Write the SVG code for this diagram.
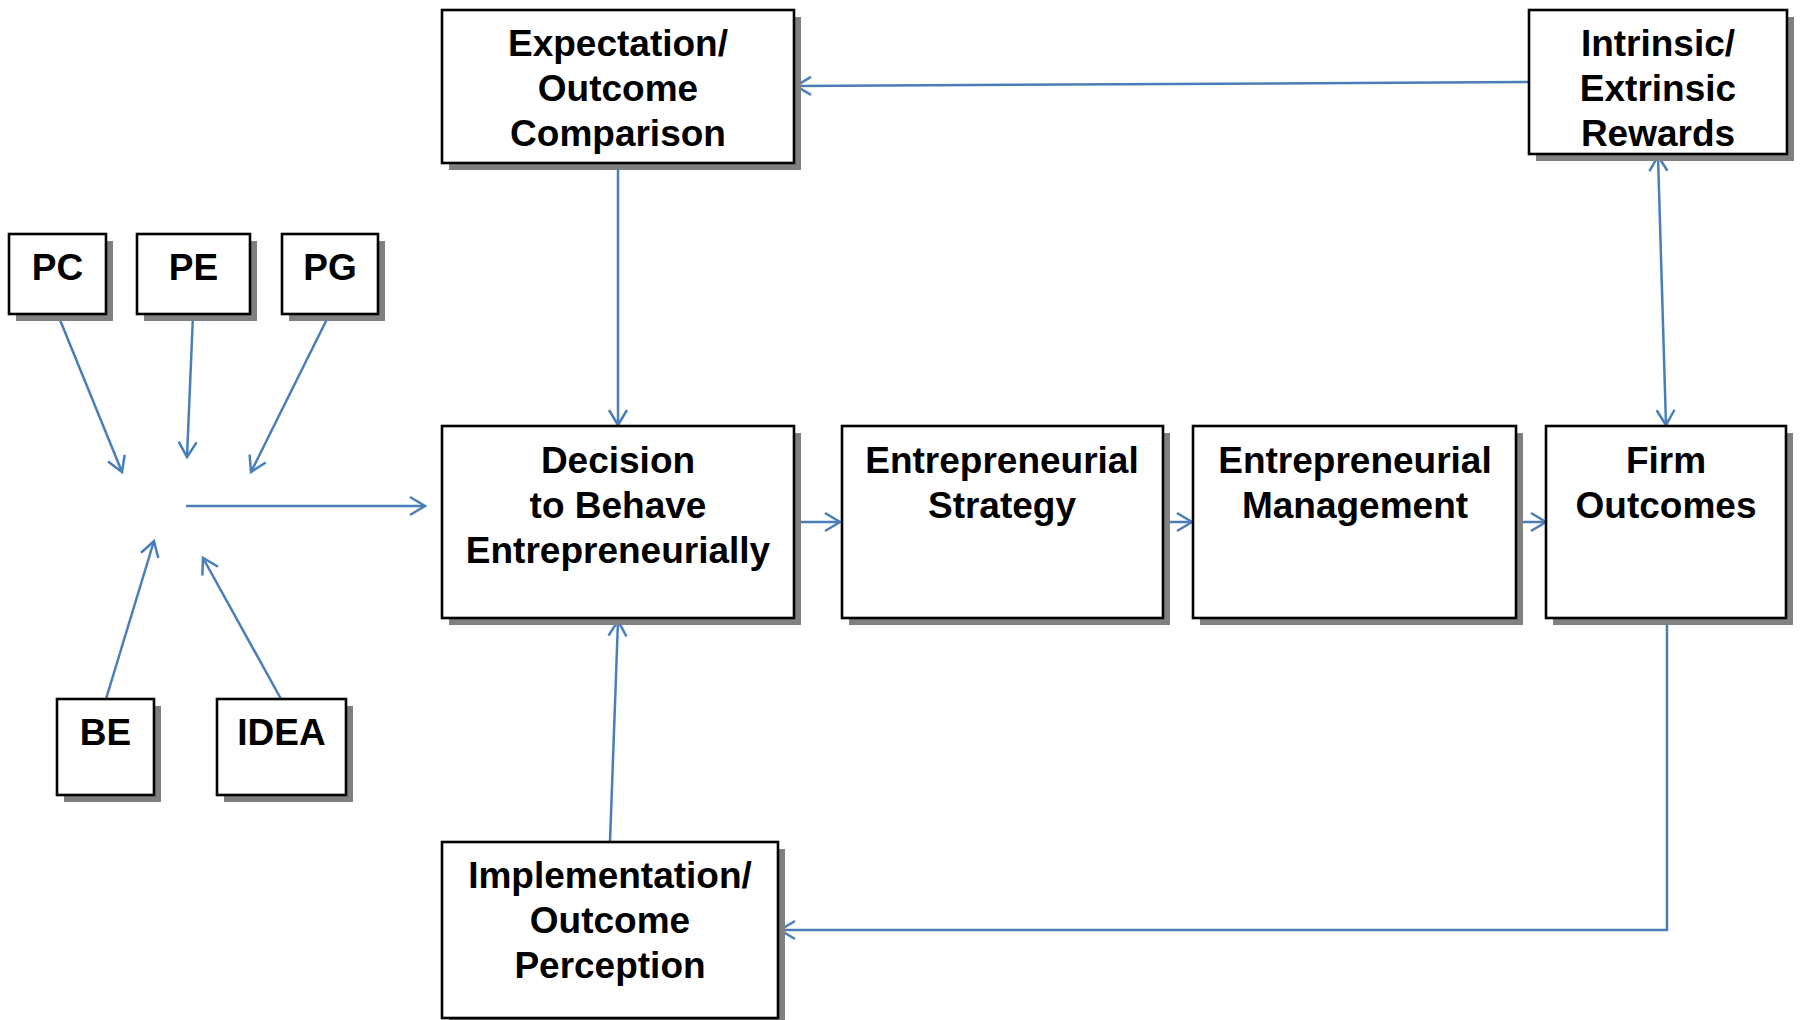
<svg xmlns="http://www.w3.org/2000/svg" width="1800" height="1020" viewBox="0 0 1800 1020">
  <defs>
    <marker id="arrow" markerUnits="userSpaceOnUse" markerWidth="24" markerHeight="24" viewBox="-18 -12 20 24" refX="0" refY="0" orient="auto-start-reverse">
      <path d="M -15 -9 L 0 0 L -15 9" fill="none" stroke="#4a7ebb" stroke-width="2.5"/>
    </marker>
  </defs>
  <style>
    .shadow { fill: #808080; }
    .box { fill: #ffffff; stroke: #000000; stroke-width: 2.6; }
    .label { font-family: "Liberation Sans", Arial, sans-serif; font-weight: bold; font-size: 37px; fill: #000000; text-anchor: middle; }
    .link { fill: none; stroke: #4a7ebb; stroke-width: 2.5; }
  </style>
  <rect width="1800" height="1020" fill="#ffffff"/>

  <!-- connectors -->
  <g id="connectors">
    <line class="link" x1="58" y1="315" x2="122" y2="472" marker-end="url(#arrow)"/>
    <line class="link" x1="193" y1="315" x2="187" y2="457" marker-end="url(#arrow)"/>
    <line class="link" x1="329" y1="315" x2="251" y2="472" marker-end="url(#arrow)"/>
    <line class="link" x1="106" y1="699" x2="154" y2="541" marker-end="url(#arrow)"/>
    <line class="link" x1="281" y1="699" x2="203" y2="558" marker-end="url(#arrow)"/>
    <line class="link" x1="186" y1="506" x2="425" y2="506" marker-end="url(#arrow)"/>
    <line class="link" x1="618" y1="164" x2="618" y2="425" marker-end="url(#arrow)"/>
    <line class="link" x1="1529" y1="82" x2="796" y2="86" marker-end="url(#arrow)"/>
    <line class="link" x1="1658" y1="156" x2="1666" y2="425" marker-start="url(#arrow)" marker-end="url(#arrow)"/>
    <polyline class="link" points="1667,619 1667,930 780,930" marker-end="url(#arrow)"/>
    <line class="link" x1="610" y1="842" x2="618" y2="621" marker-end="url(#arrow)"/>
    <line class="link" x1="795" y1="522" x2="840" y2="522" marker-end="url(#arrow)"/>
    <line class="link" x1="1163" y1="522" x2="1192" y2="522" marker-end="url(#arrow)"/>
    <line class="link" x1="1516" y1="522" x2="1546" y2="522" marker-end="url(#arrow)"/>
  </g>

  <!-- small factor boxes -->
  <g id="pc">
    <rect class="shadow" x="16" y="241" width="97" height="80"/>
    <rect class="box" x="9" y="234" width="97" height="80"/>
    <text class="label" x="57.5" y="280">PC</text>
  </g>
  <g id="pe">
    <rect class="shadow" x="144" y="241" width="113" height="80"/>
    <rect class="box" x="137" y="234" width="113" height="80"/>
    <text class="label" x="193.5" y="280">PE</text>
  </g>
  <g id="pg">
    <rect class="shadow" x="289" y="241" width="96" height="80"/>
    <rect class="box" x="282" y="234" width="96" height="80"/>
    <text class="label" x="330" y="280">PG</text>
  </g>
  <g id="be">
    <rect class="shadow" x="64" y="706" width="97" height="96"/>
    <rect class="box" x="57" y="699" width="97" height="96"/>
    <text class="label" x="105.5" y="745">BE</text>
  </g>
  <g id="idea">
    <rect class="shadow" x="224" y="706" width="129" height="96"/>
    <rect class="box" x="217" y="699" width="129" height="96"/>
    <text class="label" x="281.5" y="745">IDEA</text>
  </g>

  <!-- main process boxes -->
  <g id="expectation">
    <rect class="shadow" x="449" y="17" width="352" height="153"/>
    <rect class="box" x="442" y="10" width="352" height="153"/>
    <text class="label" x="618" y="56">Expectation/</text>
    <text class="label" x="618" y="101">Outcome</text>
    <text class="label" x="618" y="146">Comparison</text>
  </g>
  <g id="rewards">
    <rect class="shadow" x="1536" y="17" width="258" height="144"/>
    <rect class="box" x="1529" y="10" width="258" height="144"/>
    <text class="label" x="1658" y="56">Intrinsic/</text>
    <text class="label" x="1658" y="101">Extrinsic</text>
    <text class="label" x="1658" y="146">Rewards</text>
  </g>
  <g id="decision">
    <rect class="shadow" x="449" y="433" width="352" height="192"/>
    <rect class="box" x="442" y="426" width="352" height="192"/>
    <text class="label" x="618" y="473">Decision</text>
    <text class="label" x="618" y="518">to Behave</text>
    <text class="label" x="618" y="563">Entrepreneurially</text>
  </g>
  <g id="strategy">
    <rect class="shadow" x="849" y="433" width="321" height="192"/>
    <rect class="box" x="842" y="426" width="321" height="192"/>
    <text class="label" x="1002" y="473">Entrepreneurial</text>
    <text class="label" x="1002" y="518">Strategy</text>
  </g>
  <g id="management">
    <rect class="shadow" x="1200" y="433" width="323" height="192"/>
    <rect class="box" x="1193" y="426" width="323" height="192"/>
    <text class="label" x="1355" y="473">Entrepreneurial</text>
    <text class="label" x="1355" y="518">Management</text>
  </g>
  <g id="firm">
    <rect class="shadow" x="1553" y="433" width="240" height="192"/>
    <rect class="box" x="1546" y="426" width="240" height="192"/>
    <text class="label" x="1666" y="473">Firm</text>
    <text class="label" x="1666" y="518">Outcomes</text>
  </g>
  <g id="implementation">
    <rect class="shadow" x="449" y="849" width="336" height="176"/>
    <rect class="box" x="442" y="842" width="336" height="176"/>
    <text class="label" x="610" y="888">Implementation/</text>
    <text class="label" x="610" y="933">Outcome</text>
    <text class="label" x="610" y="978">Perception</text>
  </g>
</svg>
